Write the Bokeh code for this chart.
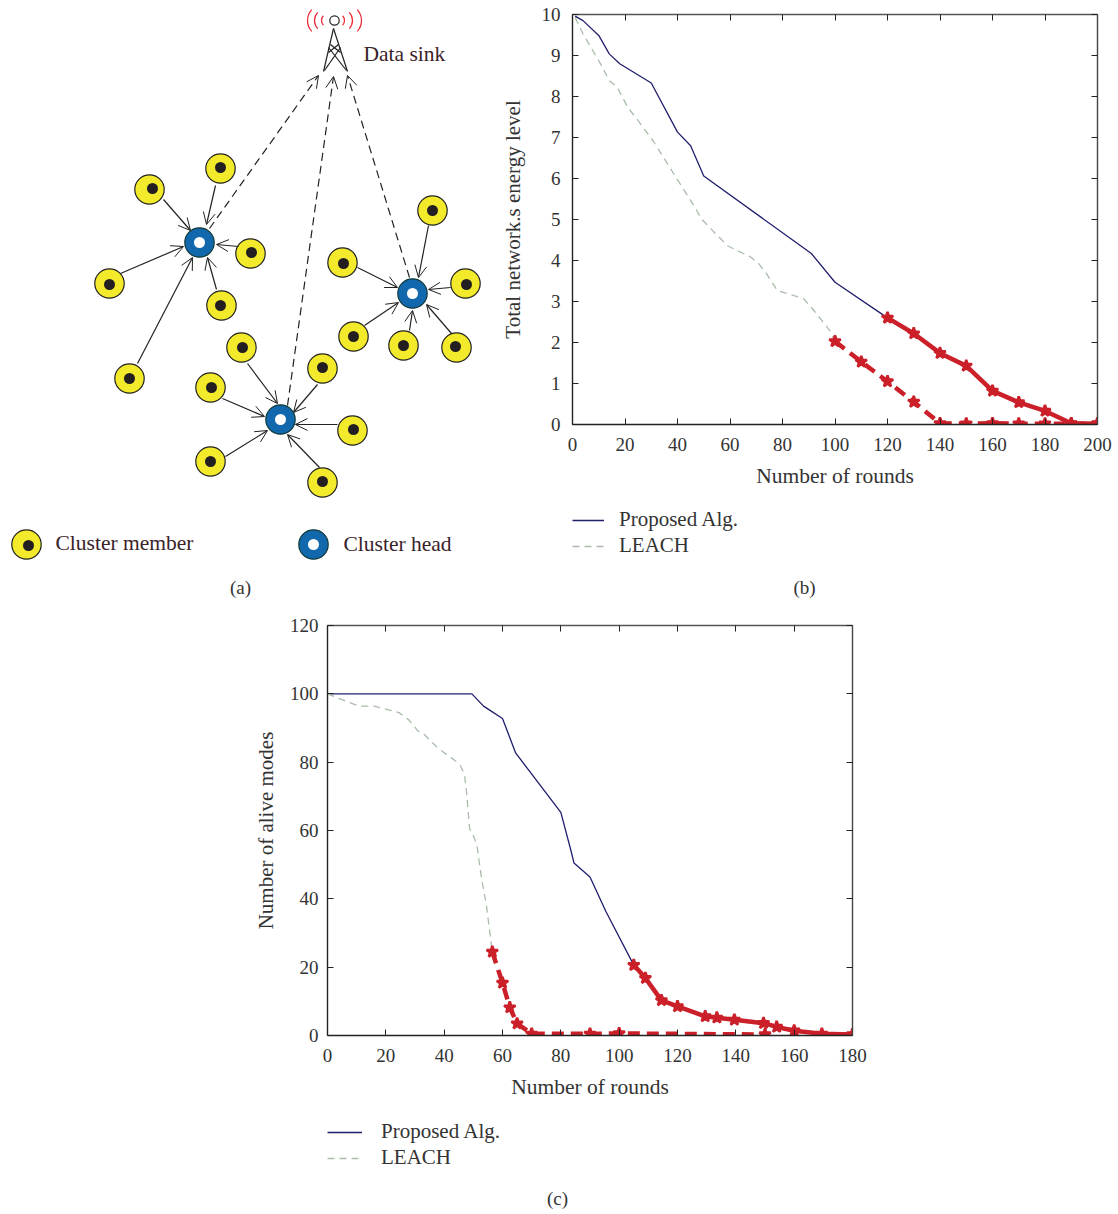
from bokeh.plotting import figure
from bokeh.layouts import column, row
from bokeh.models import (Range1d, LinearAxis, FixedTicker, Legend, LegendItem,
                          Arrow, OpenHead, ColumnDataSource, Spacer)
from bokeh.core.properties import value
from bokeh.embed import file_html
from bokeh.resources import INLINE

# ---------- panel (b) data
b_prop_x = [1, 4, 10, 14, 18, 30, 40, 45, 50, 91, 100, 120]
b_prop_y = [9.96, 9.85, 9.49, 9.04, 8.80, 8.33, 7.13, 6.80, 6.06, 4.17, 3.47, 2.60]
b_prop_red_x = [120, 130, 140, 150, 160, 170, 180, 190, 200]
b_prop_red_y = [2.60, 2.22, 1.74, 1.43, 0.82, 0.54, 0.33, 0.03, 0.02]
b_leach_x = [1, 4, 11, 14, 17, 21, 25, 31, 39, 47, 49, 59, 68, 71, 74, 78, 82, 88, 92, 98, 100]
b_leach_y = [9.93, 9.53, 8.76, 8.39, 8.23, 7.74, 7.41, 6.89, 6.07, 5.26, 5.02, 4.36, 4.08,
             3.92, 3.67, 3.27, 3.19, 3.07, 2.78, 2.29, 2.03]
b_leach_red_x = [100, 110, 120, 130, 140, 150, 160, 170, 180, 190, 200]
b_leach_red_y = [2.03, 1.53, 1.05, 0.55, 0.03, 0.02, 0.03, 0.02, 0.02, 0.02, 0.02]

# ---------- panel (c) data
c_prop_x = [0, 49.5, 53.5, 56, 60, 64.5, 80, 83.5, 84.5, 90, 95.5, 105]
c_prop_y = [100, 100, 96.4, 95, 92.8, 82.7, 65.3, 54, 50.5, 46.4, 36.2, 20.6]
c_prop_red_x = [105, 109, 114.5, 120, 129.5, 133.5, 139.5, 149.5, 154, 160, 169.5, 180]
c_prop_red_y = [20.6, 16.8, 10.3, 8.5, 5.6, 5.2, 4.6, 3.6, 2.5, 1.4, 0.5, 0.3]
c_leach_x = [0, 2, 7, 11, 16, 24.5, 28, 31, 32.5, 38, 43.5, 45.5, 47, 47.7, 48.7, 50.4, 51.3, 52.8, 54.5, 56.5]
c_leach_y = [100, 99.3, 97.6, 96.4, 96.4, 94.5, 92.3, 89.1, 88.7, 84, 80.6, 79.1, 76.2, 70.9,
             60.6, 57.7, 55.3, 46, 38, 24.5]
c_leach_red_x = [56.5, 60, 62.5, 65, 70, 90, 100, 150]
c_leach_red_y = [24.5, 15.4, 8.2, 3.5, 0.5, 0.5, 0.6, 0.3]

# ---------- panel (a) diagram
member_x = [149, 220, 250, 109, 221, 129, 342, 432, 465, 353, 403, 456, 241, 210, 322, 352, 210, 322]
member_y = [189, 168, 253, 283, 305, 378, 262, 210, 283, 336, 345, 347, 347, 387, 368, 430, 461, 482]
dot_x = [152, 220, 251, 109, 220, 129, 343, 432, 466, 353, 403, 455, 242, 211, 322, 353, 210, 322]
dot_y = [188, 167, 252, 284, 305, 378, 263, 210, 284, 336, 345, 346, 347, 387, 367, 429, 461, 481]
head_x = [199, 412, 280]
head_y = [242, 293, 419]
stems = [
    (163, 199, 190, 230), (215, 185, 206, 224), (238, 246, 216, 244), (120, 273, 183, 246),
    (137, 363, 192, 257), (216, 289, 207, 257),
    (357, 267, 397, 287), (428, 225, 418, 277), (450, 287, 428, 289), (364, 325, 398, 302),
    (409, 330, 412, 310), (451, 333, 426, 304),
    (247, 363, 277, 403), (222, 398, 264, 416), (317, 384, 293, 412), (337, 424, 295, 424),
    (225, 456, 267, 430), (319, 467, 287, 434),
]
dashed = [(209, 228, 318, 75), (287, 405, 333, 76), (409, 277, 347, 75)]
tower_segments = [
    (333, 28, 323, 71), (333, 28, 347, 71), (324, 70, 340, 47), (346, 70, 328, 47),
    (328, 52, 338, 44), (340, 52, 330, 44),
]
arc_x = [328, 326, 323, 337, 340, 345]
arc_r = [7, 12, 16, 7, 12, 16]
arc_side = ["l", "l", "l", "r", "r", "r"]

SERIF = "Liberation Serif"
INK = "#3a2229"
GREY = "#333333"
NAVY = "#1f1f6e"
SAGE = "#a9bda9"
RED = "#cb2029"
YELLOW = "#f3ea2b"
BLUE = "#1268ac"
BLACK = "#231f20"

# ---------- panel (a)
a = figure(frame_width=496, frame_height=608, x_range=Range1d(0, 496), y_range=Range1d(608, 0),
           toolbar_location=None, output_backend="svg", min_border=0)
a.xaxis.visible = False
a.yaxis.visible = False
a.grid.visible = False
a.outline_line_color = None

def seg(items):
    return ColumnDataSource(dict(x0=[s[0] for s in items], y0=[s[1] for s in items],
                                 x1=[s[2] for s in items], y1=[s[3] for s in items]))

a.add_layout(Arrow(end=OpenHead(size=12, line_width=1, line_color="#222222"), source=seg(stems),
                   x_start="x0", y_start="y0", x_end="x1", y_end="y1",
                   line_color="#222222", line_width=1.2))
a.add_layout(Arrow(end=OpenHead(size=12, line_width=1, line_color="#222222"), source=seg(dashed),
                   x_start="x0", y_start="y0", x_end="x1", y_end="y1",
                   line_color="#222222", line_width=1.2, line_dash="8 5"))
a.segment(x0="x0", y0="y0", x1="x1", y1="y1", source=seg(tower_segments), line_color="#222222", line_width=1.2)
a.circle(x=[334], y=[20], radius=4.7, fill_color="white", line_color="#222222", line_width=1.2)
for ax, ar, side in zip(arc_x, arc_r, arc_side):
    ang = 0.75
    if side == "l":
        a.arc(x=[ax], y=[20], radius=ar, start_angle=3.14159 - ang, end_angle=3.14159 + ang,
              line_color="#ee2e3a", line_width=1.3)
    else:
        a.arc(x=[ax], y=[20], radius=ar, start_angle=-ang, end_angle=ang,
              line_color="#ee2e3a", line_width=1.3)

legend_member = ([26], [544], [28], [545])
legend_head = ([313], [544])
a.circle(x=member_x + legend_member[0], y=member_y + legend_member[1], radius=14.7,
         fill_color=YELLOW, line_color="#222222", line_width=1.2)
a.circle(x=dot_x + legend_member[2], y=dot_y + legend_member[3], radius=5.5, fill_color=BLACK, line_color=None)
a.circle(x=head_x + legend_head[0], y=head_y + legend_head[1], radius=14.7,
         fill_color=BLUE, line_color="#123a3a", line_width=1.2)
a.circle(x=head_x + legend_head[0], y=head_y + legend_head[1], radius=5.5, fill_color="white", line_color=None)

for tx, ty, s in [(363, 53, "Data sink"), (55, 542, "Cluster member"), (343, 543, "Cluster head")]:
    a.text(x=[tx], y=[ty], text=[s], text_font=value(SERIF), text_font_size="21.5px",
           text_color=INK, text_baseline="middle", text_align="left")
a.text(x=[240], y=[587], text=["(a)"], text_font=value(SERIF), text_font_size="19px",
       text_color=GREY, text_baseline="middle", text_align="center")


def panel(xmax, ymax, xstep, ystep, xlabel, ylabel, left, right, top, bottom, fw, fh, tick_standoff, label_standoff):
    p = figure(frame_width=fw, frame_height=fh, x_range=Range1d(0, xmax), y_range=Range1d(0, ymax),
               toolbar_location=None, output_backend="svg",
               min_border_left=left, min_border_right=right, min_border_top=top, min_border_bottom=bottom,
               x_axis_label=xlabel, y_axis_label=ylabel)
    p.grid.visible = False
    p.outline_line_color = None
    xticks = list(range(0, xmax + 1, xstep))
    yticks = list(range(0, ymax + 1, ystep))
    xt = FixedTicker(ticks=xticks)
    yt = FixedTicker(ticks=yticks)
    for ax, t in ((p.xaxis[0], xt), (p.yaxis[0], yt)):
        ax.ticker = t
        ax.minor_tick_line_color = None
        ax.major_tick_in = 6
        ax.major_tick_out = 0
        ax.major_tick_line_color = "#222222"
        ax.axis_line_color = "#222222"
        ax.axis_line_width = 1.4
        ax.major_label_text_font = SERIF
        ax.major_label_text_font_size = "19px"
        ax.major_label_text_color = GREY
        ax.axis_label_text_font = SERIF
        ax.axis_label_text_font_style = "normal"
        ax.axis_label_text_color = GREY
    p.xaxis[0].major_label_standoff = 13
    p.xaxis[0].axis_label_standoff = 10
    p.xaxis[0].axis_label_text_font_size = "21.5px"
    p.yaxis[0].major_label_standoff = tick_standoff
    p.yaxis[0].axis_label_standoff = label_standoff
    p.yaxis[0].axis_label_text_font_size = "21px"
    ra = LinearAxis(ticker=yt, major_label_overrides={t: "" for t in yticks}, major_tick_in=6, major_tick_out=0,
                    minor_tick_line_color=None, axis_line_color="#444444", axis_line_width=1.4,
                    major_tick_line_color="#222222", major_label_standoff=0)
    ta = LinearAxis(ticker=xt, major_label_overrides={t: "" for t in xticks}, major_tick_in=6, major_tick_out=0,
                    minor_tick_line_color=None, axis_line_color="#555555", axis_line_width=1.4,
                    major_tick_line_color="#222222", major_label_standoff=0)
    p.add_layout(ra, "right")
    p.add_layout(ta, "above")
    return p


def series(p, px, py, lx, ly, prx, pry, lrx, lry):
    p.line(px, py, line_color=NAVY, line_width=1.3)
    p.line(lx, ly, line_color=SAGE, line_width=1.3, line_dash="7 5")
    p.line(lrx, lry, line_color=RED, line_width=4.5, line_dash="12 7")
    p.scatter(lrx, lry, marker="star", size=12, fill_color=RED, line_color=RED, line_width=2.5)
    p.line(prx, pry, line_color=RED, line_width=4.5)
    p.scatter(prx, pry, marker="star", size=12, fill_color=RED, line_color=RED, line_width=2.5)


def footer(left, right, x0, x1, y0, y1, legend_xy, glyph_w, standoff, cap, cap_x, cap_y, px, py, lx, ly):
    """A strip under a chart, in page pixels, holding its legend and its caption."""
    h = figure(frame_width=x1 - x0, frame_height=y1 - y0, x_range=Range1d(x0, x1), y_range=Range1d(y1, y0),
               toolbar_location=None, output_backend="svg", min_border_left=left, min_border_right=right,
               min_border_top=0, min_border_bottom=0)
    h.xaxis.visible = False
    h.yaxis.visible = False
    h.grid.visible = False
    h.outline_line_color = None
    # the chart's own series, which lie outside this strip's ranges: only their legend keys show
    r1 = h.line(px, py, line_color=NAVY, line_width=1.3)
    r2 = h.line(lx, ly, line_color=SAGE, line_width=1.3, line_dash="7 5")
    leg = Legend(items=[LegendItem(label="Proposed Alg.", renderers=[r1]), LegendItem(label="LEACH", renderers=[r2])],
                 location=legend_xy, orientation="vertical", background_fill_alpha=0, border_line_color=None,
                 padding=0, margin=0, glyph_width=glyph_w, glyph_height=20, label_height=20, spacing=1,
                 label_standoff=standoff, label_text_font=SERIF, label_text_font_size="21px",
                 label_text_color=GREY)
    h.add_layout(leg)
    h.text(x=[cap_x], y=[cap_y], text=[cap], text_font=value(SERIF), text_font_size="19px",
           text_color=GREY, text_baseline="middle", text_align="center")
    return h


# ---------- panel (b): frame spans 572..1097 px, 14..424 px
b = panel(200, 10, 20, 1, "Number of rounds", "Total network.s energy level", 76, 16, 14, 70, 525, 410, 12, 14)
series(b, b_prop_x, b_prop_y, b_leach_x, b_leach_y, b_prop_red_x, b_prop_red_y, b_leach_red_x, b_leach_red_y)
fb = footer(76, 16, 572, 1097, 494, 608, (0, 50), 32, 15, "(b)", 804, 587, b_prop_x, b_prop_y, b_leach_x, b_leach_y)

# ---------- panel (c): frame spans 327..852 px, 625..1035 px
c = panel(180, 120, 20, 20, "Number of rounds", "Number of alive modes", 97, 28, 17, 70, 525, 410, 9, 9)
series(c, c_prop_x, c_prop_y, c_leach_x, c_leach_y, c_prop_red_x, c_prop_red_y, c_leach_red_x, c_leach_red_y)
fc = footer(97, 28, 327, 852, 1105, 1214, (0, 44), 35, 19, "(c)", 557, 1198, c_prop_x, c_prop_y, c_leach_x, c_leach_y)

page = column(
    row(column(a), column(b, fb, spacing=0), spacing=0),
    row(Spacer(width=230, height=10), column(c, fc, spacing=0), spacing=0),
    spacing=0,
)
open("out.html", "w").write(file_html(page, INLINE))
